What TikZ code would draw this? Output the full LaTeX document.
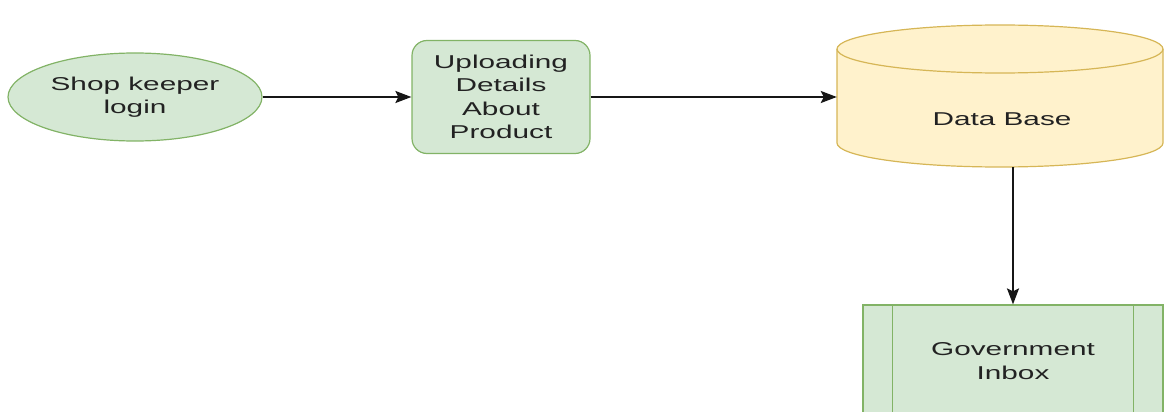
\documentclass[tikz,border=0pt]{standalone}
\usepackage{fontspec}
\setmainfont[FakeStretch=1.6]{Liberation Sans}
\usetikzlibrary{shapes.geometric,arrows.meta}
\definecolor{greenfill}{HTML}{D5E8D4}
\definecolor{greenline}{HTML}{82B366}
\definecolor{yellowfill}{HTML}{FFF2CC}
\definecolor{yellowline}{HTML}{D6B656}
\definecolor{inkcol}{HTML}{222222}
\definecolor{flowcol}{HTML}{161616}
\tikzset{
  lbl/.style={font=\fontsize{18.6}{23.5}\selectfont, text=inkcol, align=center},
  startnode/.style={ellipse, draw=greenline, fill=greenfill, line width=1.2pt,
    minimum width=254pt, minimum height=88pt, lbl},
  procnode/.style={rectangle, rounded corners=15pt, draw=greenline, fill=greenfill,
    line width=1.2pt, minimum width=178pt, minimum height=113pt, lbl},
  subnode/.style={rectangle, draw=greenline, fill=greenfill, line width=1.2pt,
    minimum width=300pt, minimum height=112pt, lbl},
  flow/.style={draw=flowcol, line width=2pt,
    -{Stealth[length=16pt, width=12pt, inset=3pt]}},
}
\begin{document}
\begin{tikzpicture}[x=1pt, y=-1pt]
\useasboundingbox (0,0) rectangle (1165,412);
\clip (0,0) rectangle (1165,412);

% login and upload steps
\node[startnode] (login) at (135,97) {Shop keeper\\login};
\node[procnode] (upload) at (501,97) {Uploading\\Details\\About\\Product};

% database cylinder: body, then the front rim of its lid
\node[minimum width=326pt, minimum height=142pt, inner sep=0pt] (db) at (1000,96) {};
\path[fill=yellowfill, draw=yellowline, line width=1.2pt]
  (837,49) -- (837,143)
  arc[start angle=180, end angle=0, x radius=163, y radius=24]
  -- (1163,49)
  arc[start angle=0, end angle=-180, x radius=163, y radius=24] -- cycle;
\draw[yellowline, line width=1.2pt]
  (837,49) arc[start angle=180, end angle=0, x radius=163, y radius=24];
\node[lbl] at (1002,119) {Data Base};

% predefined-process box with its two inner bars
\node[subnode] (gov) at (1013,361) {Government\\Inbox};
\draw[greenline, line width=1.2pt]
  ([xshift=30pt]gov.north west) -- ([xshift=30pt]gov.south west)
  ([xshift=-30pt]gov.north east) -- ([xshift=-30pt]gov.south east);

% connectors
\draw[flow] (login.east) -- (upload.west);
\draw[flow] (upload.east) -- (upload.east -| db.west);
\draw[flow] (db.south -| gov.north) -- (gov.north);
\end{tikzpicture}
\end{document}
